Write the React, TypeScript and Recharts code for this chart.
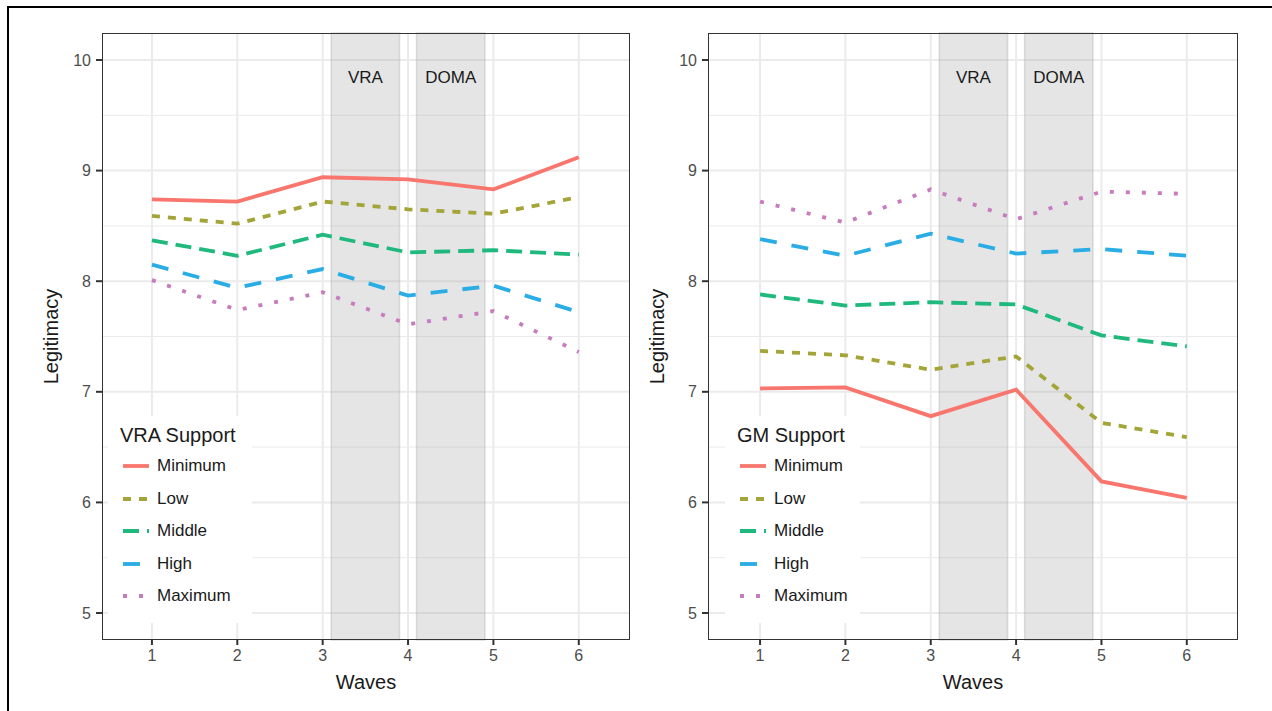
import React from 'react';
import {
  LineChart,
  Line,
  XAxis,
  YAxis,
  CartesianGrid,
  ReferenceArea
} from 'recharts';

const waves = [1, 2, 3, 4, 5, 6];
const seriesNames = ['Minimum', 'Low', 'Middle', 'High', 'Maximum'];
const seriesColors = ['#F8766D', '#A3A539', '#1FB97D', '#2AADE5', '#C77CBF'];
const seriesDashes = ['0', '8 8', '16 8', '17 15', '4 12'];

const vraMinimum = [8.74, 8.72, 8.94, 8.92, 8.83, 9.12];
const vraLow = [8.59, 8.52, 8.72, 8.65, 8.61, 8.76];
const vraMiddle = [8.37, 8.23, 8.42, 8.26, 8.28, 8.24];
const vraHigh = [8.15, 7.94, 8.11, 7.87, 7.96, 7.72];
const vraMaximum = [8.01, 7.74, 7.9, 7.61, 7.73, 7.36];

const gmMinimum = [7.03, 7.04, 6.78, 7.02, 6.19, 6.04];
const gmLow = [7.37, 7.33, 7.2, 7.32, 6.72, 6.59];
const gmMiddle = [7.88, 7.78, 7.81, 7.79, 7.51, 7.41];
const gmHigh = [8.38, 8.23, 8.43, 8.25, 8.29, 8.23];
const gmMaximum = [8.72, 8.53, 8.83, 8.56, 8.81, 8.79];

const yTicks = [5, 6, 7, 8, 9, 10];
const yMinor = [5.5, 6.5, 7.5, 8.5, 9.5];
const events = [
  { label: 'VRA', from: 3.1, to: 3.9 },
  { label: 'DOMA', from: 4.1, to: 4.9 }
];

const FONT = '"Liberation Sans", Arial, Helvetica, sans-serif';

const buildRows = (cols: number[][]) =>
  waves.map((w, i) => {
    const row: Record<string, number> = { wave: w };
    seriesNames.forEach((name, s) => {
      row[name] = cols[s][i];
    });
    return row;
  });

const vraData = buildRows([vraMinimum, vraLow, vraMiddle, vraHigh, vraMaximum]);
const gmData = buildRows([gmMinimum, gmLow, gmMiddle, gmHigh, gmMaximum]);

interface PanelProps {
  left: number;
  width: number;
  xDomain: [number, number];
  data: Record<string, number>[];
  legendTitle: string;
  legendLeft: number;
  legendWidth: number;
}

const KeyLegend: React.FC<{ title: string; left: number; width: number }> = ({ title, left, width }) => (
  <div
    style={{
      position: 'absolute',
      left,
      top: 416,
      width,
      height: 207,
      background: '#fff',
      fontFamily: FONT,
      color: '#1a1a1a'
    }}
  >
    <div style={{ position: 'absolute', left: 12, top: 7, fontSize: 20, lineHeight: '24px', whiteSpace: 'nowrap' }}>
      {title}
    </div>
    {seriesNames.map((name, i) => {
      const cy = [50, 83, 115, 148, 180][i];
      return (
        <div key={name}>
          <svg style={{ position: 'absolute', left: 15, top: cy - 6 }} width={26} height={12}>
            <line
              x1={0}
              x2={26}
              y1={6}
              y2={6}
              stroke={seriesColors[i]}
              strokeWidth={3.8}
              strokeDasharray={seriesDashes[i]}
            />
          </svg>
          <div
            style={{
              position: 'absolute',
              left: 49,
              top: cy - 10,
              fontSize: 17,
              lineHeight: '20px',
              whiteSpace: 'nowrap'
            }}
          >
            {name}
          </div>
        </div>
      );
    })}
  </div>
);

const Panel: React.FC<PanelProps> = ({ left, width, xDomain, data, legendTitle, legendLeft, legendWidth }) => (
  <div style={{ position: 'absolute', left, top: 0, width, height: 711 }}>
    <LineChart
      width={width}
      height={711}
      data={data}
      margin={{ top: 33, right: 10, left: 0, bottom: 0 }}
    >
      <CartesianGrid
        stroke="#ebebeb"
        strokeWidth={2}
        horizontalValues={yTicks}
        verticalValues={waves}
        fill="none"
      />
      <CartesianGrid
        stroke="#ebebeb"
        strokeWidth={1}
        horizontalValues={yMinor}
        vertical={false}
        fill="none"
      />
      <XAxis
        dataKey="wave"
        type="number"
        domain={xDomain}
        ticks={waves}
        allowDataOverflow
        height={71}
        tickSize={5}
        tickMargin={5}
        axisLine={false}
        tickLine={{ stroke: '#333', strokeWidth: 2 }}
        tick={{ fontSize: 16, fill: '#4d4d4d', fontFamily: FONT }}
        label={{
          value: 'Waves',
          position: 'insideBottom',
          offset: 22,
          style: { fontSize: 20, fill: '#1a1a1a', fontFamily: FONT }
        }}
      />
      <YAxis
        type="number"
        domain={[4.756, 10.244]}
        ticks={yTicks}
        allowDataOverflow
        width={102}
        tickSize={6}
        tickMargin={5}
        axisLine={false}
        tickLine={{ stroke: '#333', strokeWidth: 2 }}
        tick={{ fontSize: 16, fill: '#4d4d4d', fontFamily: FONT }}
        label={{
          value: 'Legitimacy',
          angle: -90,
          position: 'center',
          style: { fontSize: 20, fill: '#1a1a1a', fontFamily: FONT }
        }}
      />
      {events.map(ev => (
        <ReferenceArea
          key={ev.label}
          x1={ev.from}
          x2={ev.to}
          fill="#999"
          fillOpacity={0.25}
          stroke="#bbb"
          strokeOpacity={0.5}
          strokeWidth={1.5}
          label={{
            value: ev.label,
            position: 'insideTop',
            offset: 38,
            style: { fontSize: 17, fill: '#1a1a1a', fontFamily: FONT }
          }}
        />
      ))}
      {seriesNames.map((name, i) => (
        <Line
          key={name}
          type="linear"
          dataKey={name}
          stroke={seriesColors[i]}
          strokeWidth={3.8}
          strokeDasharray={seriesDashes[i]}
          dot={false}
          activeDot={false}
          isAnimationActive={false}
        />
      ))}
    </LineChart>
    <KeyLegend title={legendTitle} left={legendLeft} width={legendWidth} />
    <div
      style={{
        position: 'absolute',
        left: 102,
        top: 33,
        width: width - 112,
        height: 607,
        border: '1px solid #333',
        boxSizing: 'border-box',
        pointerEvents: 'none'
      }}
    />
  </div>
);

export default function App() {
  return (
    <div style={{ position: 'absolute', left: 0, top: 0, width: 1272, height: 711, background: '#fff', overflow: 'hidden' }}>
      <div
        style={{
          position: 'absolute',
          left: 7,
          top: 6,
          width: 1400,
          height: 900,
          borderLeft: '2px solid #000',
          borderTop: '2px solid #000'
        }}
      />
      <Panel
        left={0}
        width={640}
        xDomain={[0.415, 6.6]}
        data={vraData}
        legendTitle="VRA Support"
        legendLeft={108}
        legendWidth={144}
      />
      <Panel
        left={606}
        width={642}
        xDomain={[0.39, 6.6]}
        data={gmData}
        legendTitle="GM Support"
        legendLeft={119}
        legendWidth={135}
      />
    </div>
  );
}
